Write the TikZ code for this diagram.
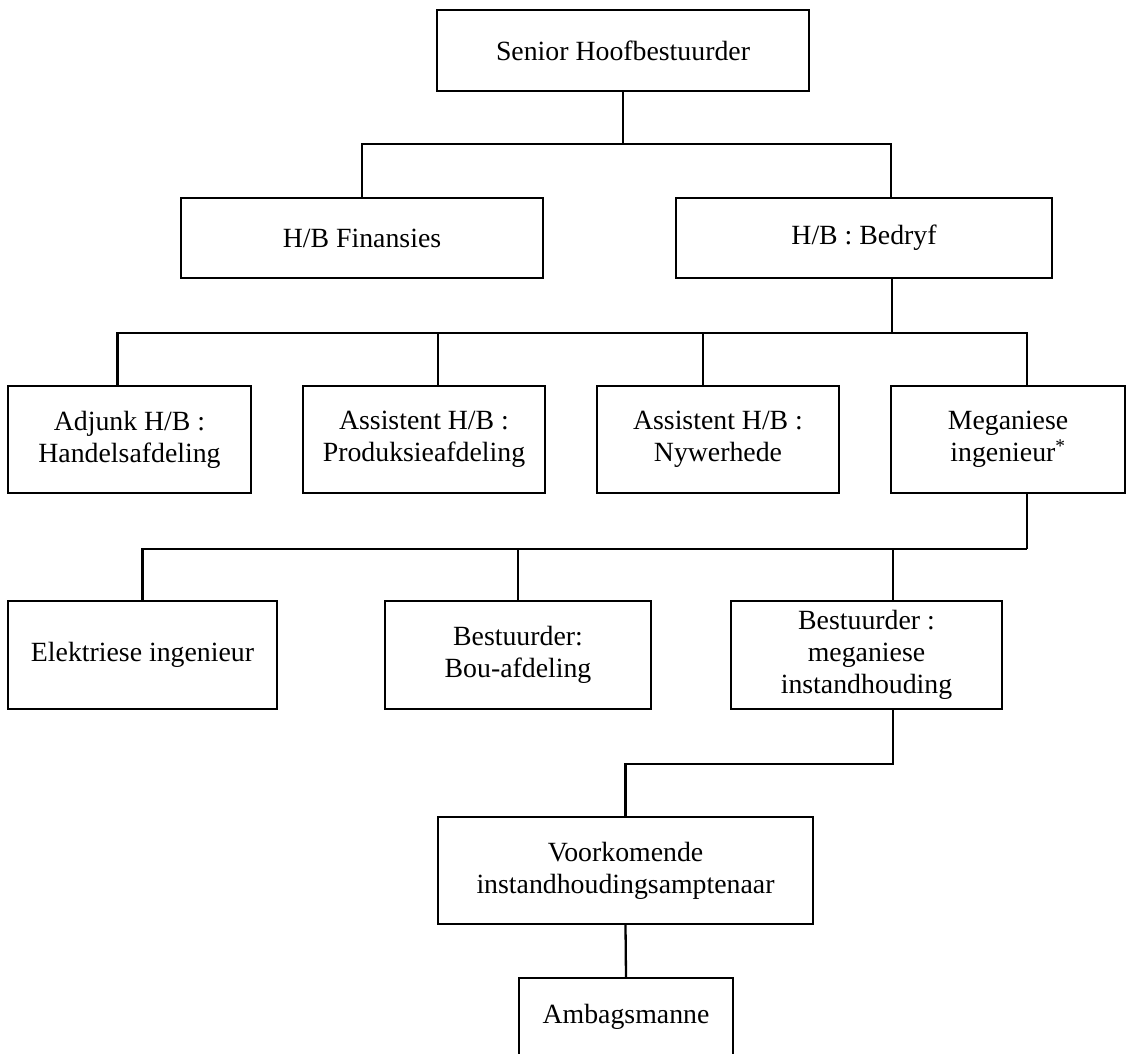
\documentclass[tikz,border=0pt]{standalone}
\usepackage{fontspec}
\setmainfont{Liberation Serif}

\begin{document}
\begin{tikzpicture}[x=1pt, y=-1pt, line width=2.3pt,
    rol/.style={draw, align=center, inner sep=0pt, font=\fontsize{27.8}{32}\selectfont}]
    \clip (0,0) rectangle (1129,1054);

    % vlak 1
    \node[rol, minimum width=372pt, minimum height=81pt] (senior) at (623,50.5) {Senior Hoofbestuurder};

    % vlak 2
    \node[rol, minimum width=362pt, minimum height=80pt] (finansies) at (362,238) {H/B Finansies};
    \node[rol, minimum width=376pt, minimum height=80pt] (bedryf) at (864,238) {H/B : Bedryf};

    % vlak 3
    \node[rol, minimum width=243pt, minimum height=107pt] (adjunk) at (129.5,439.5) {Adjunk H/B :\\Handelsafdeling};
    \node[rol, minimum width=242pt, minimum height=107pt] (produksie) at (424,439.5) {Assistent H/B :\\Produksieafdeling};
    \node[rol, minimum width=242pt, minimum height=107pt] (nywerhede) at (718,439.5) {Assistent H/B :\\Nywerhede};
    \node[rol, minimum width=234pt, minimum height=107pt] (meganies) at (1008,439.5) {Meganiese\\ingenieur\textsuperscript{*}};

    % vlak 4
    \node[rol, minimum width=269pt, minimum height=108pt] (elektries) at (142.5,655) {Elektriese ingenieur};
    \node[rol, minimum width=266pt, minimum height=108pt] (bou) at (518,655) {Bestuurder:\\Bou-afdeling};
    \node[rol, minimum width=271pt, minimum height=108pt] (bestuurder) at (866.5,655) {Bestuurder :\\meganiese\\instandhouding};

    % vlak 5 en 6
    \node[rol, minimum width=375pt, minimum height=107pt] (voorkomend) at (625.5,870.5) {Voorkomende\\instandhoudingsamptenaar};
    \node[rol, minimum width=214pt, minimum height=78pt] (ambag) at (626,1017) {Ambagsmanne};

    % verbindings
    \draw (senior.south) -- ++(0,52) coordinate (bus1);
    \draw (finansies.north) |- (bus1) -| ([xshift=27pt]bedryf.north);

    \draw ([xshift=28pt]bedryf.south) -- ++(0,54) coordinate (bus2);
    \draw ([xshift=-12pt]adjunk.north) |- (bus2) -| ([xshift=19pt]meganies.north);
    \draw ([xshift=14pt]produksie.north) -- ([xshift=14pt]produksie.north |- bus2);
    \draw ([xshift=-15pt]nywerhede.north) -- ([xshift=-15pt]nywerhede.north |- bus2);

    \draw ([xshift=19pt]meganies.south) -- ++(0,55) coordinate (bus3);
    \draw (elektries.north) |- (bus3);
    \draw (bou.north) -- (bou.north |- bus3);
    \draw ([xshift=26.5pt]bestuurder.north) -- ([xshift=26.5pt]bestuurder.north |- bus3);

    \draw ([xshift=26.5pt]bestuurder.south) -- ++(0,54) -| (voorkomend.north);
    \draw (voorkomend.south) -- (ambag.north);
\end{tikzpicture}
\end{document}
